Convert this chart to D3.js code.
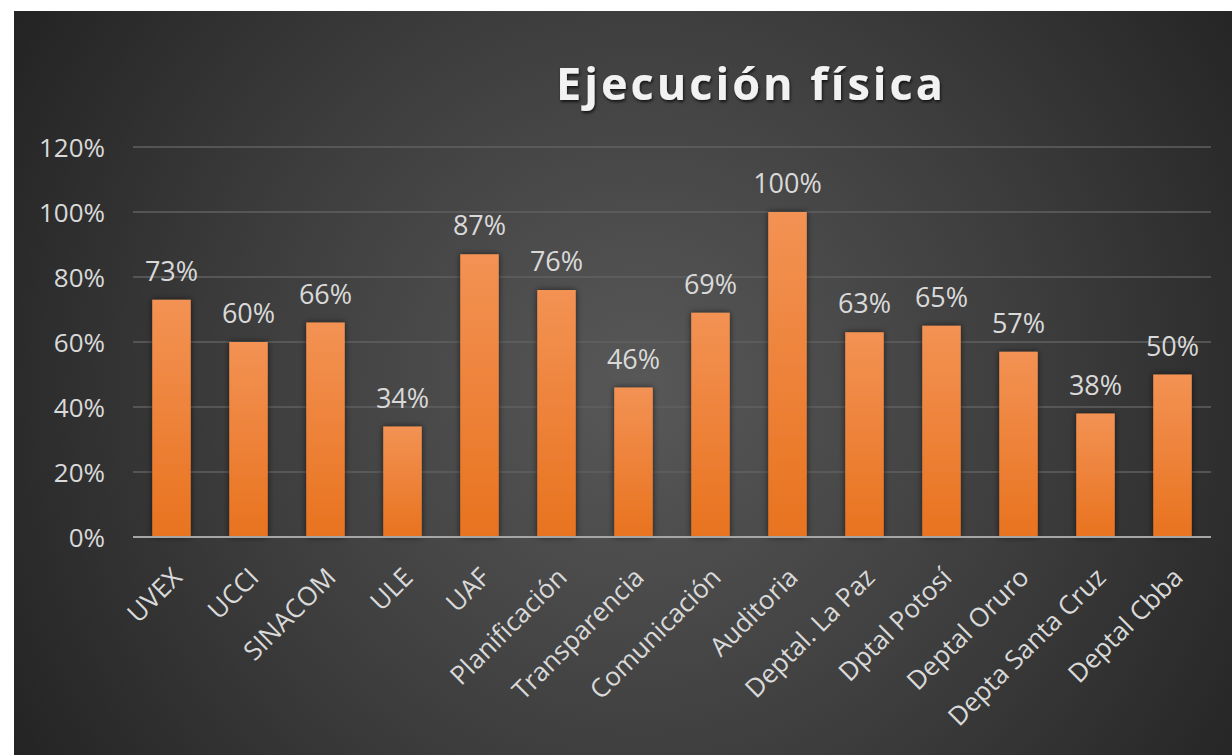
<!DOCTYPE html>
<html><head><meta charset="utf-8">
<script src="https://cdn.jsdelivr.net/npm/d3@7"></script>
<style>html,body{margin:0;padding:0;background:#fff;overflow:hidden}</style>
</head><body>
<svg id="c" width="1232" height="755"></svg>
<script>
const categories = ["UVEX","UCCI","SINACOM","ULE","UAF","Planificación","Transparencia","Comunicación","Auditoria","Deptal. La Paz","Dptal Potosí","Deptal Oruro","Depta Santa Cruz","Deptal Cbba"];
const values = [0.73,0.60,0.66,0.34,0.87,0.76,0.46,0.69,1.00,0.63,0.65,0.57,0.38,0.50];
const yTicks = [0,0.2,0.4,0.6,0.8,1.0,1.2];
const title = "Ejecución física";

const FONT = "'Open Sans', 'Noto Sans', sans-serif";
const svg = d3.select("#c");
const defs = svg.append("defs");
const bg = defs.append("radialGradient").attr("id","bg").attr("gradientUnits","userSpaceOnUse")
  .attr("cx",640).attr("cy",390).attr("r",720);
bg.append("stop").attr("offset","0").attr("stop-color","#585858");
bg.append("stop").attr("offset","0.55").attr("stop-color","#3d3d3d");
bg.append("stop").attr("offset","1").attr("stop-color","#242424");
const bar = defs.append("linearGradient").attr("id","bar").attr("x1",0).attr("y1",0).attr("x2",0).attr("y2",1);
bar.append("stop").attr("offset","0").attr("stop-color","#f39254");
bar.append("stop").attr("offset","1").attr("stop-color","#e8731f");
const sh = defs.append("filter").attr("id","sh").attr("x","-30%").attr("y","-10%").attr("width","160%").attr("height","130%");
sh.append("feDropShadow").attr("dx",0).attr("dy",0).attr("stdDeviation",3).attr("flood-color","#000").attr("flood-opacity",0.6);
const tsh = defs.append("filter").attr("id","tsh");
tsh.append("feDropShadow").attr("dx",1).attr("dy",2).attr("stdDeviation",1.5).attr("flood-color","#000").attr("flood-opacity",0.7);

svg.append("rect").attr("x",14).attr("y",11).attr("width",1218).attr("height",744).attr("fill","url(#bg)");

const x = d3.scaleBand().domain(categories).range([133,1211]).paddingInner(0.5).paddingOuter(0.25);
const y = d3.scaleLinear().domain([0,1.2]).range([537,147]);

// gridlines
svg.append("g").selectAll("line").data(yTicks.filter(d=>d>0)).join("line")
  .attr("x1",133).attr("x2",1211).attr("y1",d=>y(d)).attr("y2",d=>y(d))
  .attr("stroke","#606060").attr("stroke-width",1.5);

// y axis labels
const ya = svg.append("g").attr("transform","translate(105,0)")
  .call(d3.axisLeft(y).tickValues(yTicks).tickFormat(d3.format(".0%")).tickSize(0).tickPadding(0));
ya.select(".domain").remove();
ya.selectAll("text").attr("fill","#d9d9d9").attr("font-family",FONT).attr("font-size",26).attr("dy","0.35em");

// bars
svg.append("g").selectAll("rect").data(values).join("rect")
  .attr("x",(d,i)=>x(categories[i])).attr("width",x.bandwidth())
  .attr("y",d=>y(d)).attr("height",d=>y(0)-y(d))
  .attr("fill","url(#bar)").attr("filter","url(#sh)");

// baseline
svg.append("line").attr("x1",133).attr("x2",1211).attr("y1",y(0)).attr("y2",y(0))
  .attr("stroke","#a6a6a6").attr("stroke-width",2);

// value labels
svg.append("g").selectAll("text").data(values).join("text")
  .attr("x",(d,i)=>x(categories[i])+x.bandwidth()/2).attr("y",d=>y(d)-19)
  .attr("text-anchor","middle").attr("fill","#d9d9d9")
  .attr("font-family",FONT).attr("font-size",27)
  .text(d=>d3.format(".0%")(d));

// x axis labels
const xa = svg.append("g").attr("transform",`translate(0,${y(0)})`)
  .call(d3.axisBottom(x).tickSize(0).tickPadding(0));
xa.select(".domain").remove();
xa.selectAll("text").attr("fill","#d9d9d9").attr("font-family",FONT).attr("font-size",26)
  .attr("text-anchor","end").attr("dy",0).attr("y",0).attr("transform","translate(12,42) rotate(-45)");

// title
svg.append("text").attr("x",751).attr("y",100).attr("text-anchor","middle")
  .attr("fill","#f2f2f2").attr("font-family",FONT)
  .attr("font-weight","bold").attr("font-size",45).attr("letter-spacing",3).attr("filter","url(#tsh)")
  .text(title);
</script>
</body></html>
